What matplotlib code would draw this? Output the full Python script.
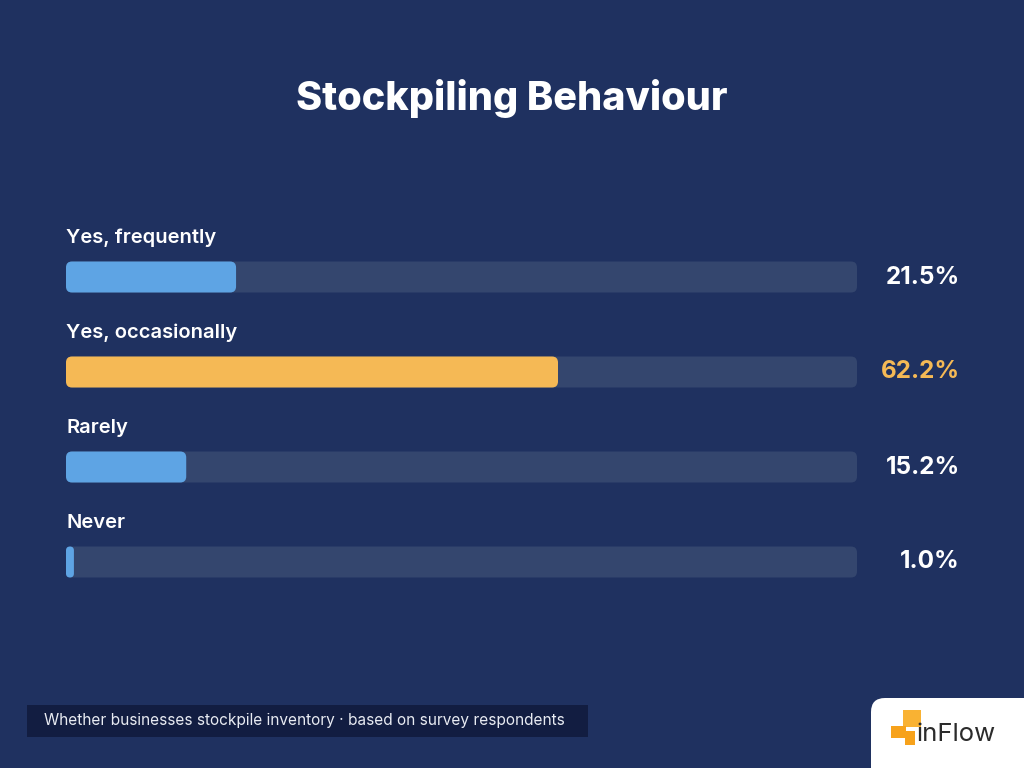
import matplotlib
matplotlib.use("Agg")
import matplotlib.pyplot as plt
from matplotlib.patches import FancyBboxPatch, Rectangle

categories = ["Yes, frequently", "Yes, occasionally", "Rarely", "Never"]
values = [21.5, 62.2, 15.2, 1.0]
value_labels = ["21.5%", "62.2%", "15.2%", "1.0%"]
highlight = [False, True, False, False]
title = "Stockpiling Behaviour"
footnote = "Whether businesses stockpile inventory · based on survey respondents"

BG = "#1f3160"
TRACK = "#34466e"
BLUE = "#5ea4e4"
ORANGE = "#f5b955"
FOOT_BG = "#121d41"

plt.rcParams['font.family'] = ['Inter', 'DejaVu Sans']

W, H = 1024, 768
fig = plt.figure(figsize=(W / 100, H / 100), dpi=100, facecolor=BG)

# decoration layer in pixel coordinates
deco = fig.add_axes([0, 0, 1, 1])
deco.set_xlim(0, W)
deco.set_ylim(H, 0)
deco.axis("off")
deco.set_facecolor("none")

# data axes: x in percent, y in category index
px_left, px_right = 66, 857
py_top, py_bot = 200, 620
ax = fig.add_axes([px_left / W, 1 - py_bot / H, (px_right - px_left) / W, (py_bot - py_top) / H])
ax.set_facecolor("none")
ax.axis("off")
ax.set_xlim(0, 100)
step_px = 95
first_px = 277
ax.set_ylim((py_bot - first_px) / step_px, (py_top - first_px) / step_px)

x_per_px = 100 / (px_right - px_left)
y_per_px = 1 / step_px
aspect = y_per_px / x_per_px
bar_h = 31 * y_per_px
rad_px = 6

for i, (cat, v, lab, hl) in enumerate(zip(categories, values, value_labels, highlight)):
    r = rad_px * x_per_px
    ax.add_patch(FancyBboxPatch((0, i - bar_h / 2), 100, bar_h,
                                boxstyle=f"round,pad=0,rounding_size={r}",
                                mutation_aspect=aspect, fc=TRACK, ec="none"))
    color = ORANGE if hl else BLUE
    rr = min(r, v / 2)
    ax.add_patch(FancyBboxPatch((0, i - bar_h / 2), v, bar_h,
                                boxstyle=f"round,pad=0,rounding_size={rr}",
                                mutation_aspect=aspect, fc=color, ec="none"))
    ax.text(0, i - 39 * y_per_px, cat, color="white", fontsize=14.5, fontweight="semibold",
            ha="left", va="center")
    ax.text(100 + 103 * x_per_px, i, lab, color=ORANGE if hl else "white", fontsize=17.5,
            fontweight="bold", ha="right", va="center", clip_on=False)

# title
deco.text(W / 2, 98, title, color="white", fontsize=28.5, fontweight="heavy",
          ha="center", va="center")

# footnote box
deco.add_patch(Rectangle((27, 705), 561, 32, fc=FOOT_BG, ec="none"))
deco.text(44, 721, footnote, color="#e8ebf2", fontsize=11.1, ha="left", va="center")

# logo block
deco.add_patch(FancyBboxPatch((871, 698), 200, 120,
                              boxstyle="round,pad=0,rounding_size=14",
                              fc="white", ec="none"))
deco.add_patch(Rectangle((903, 710), 18, 17, fc="#f9b233", ec="none"))
deco.add_patch(Rectangle((891, 726), 15, 12, fc="#f7a21b", ec="none"))
deco.add_patch(Rectangle((905, 731), 10, 14, fc="#f7a21b", ec="none"))
deco.text(917, 741, "inFlow", color="#2b2b2b", fontsize=18.5, fontweight="normal",
          ha="left", va="baseline")

fig.savefig("out.png", dpi=100, facecolor=BG)
